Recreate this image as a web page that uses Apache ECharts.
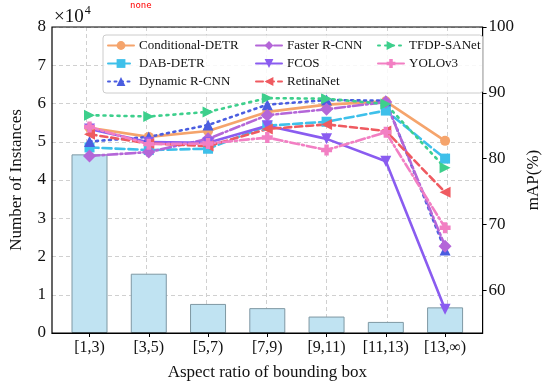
<!DOCTYPE html>
<html>
<head>
<meta charset="utf-8">
<script src="https://cdn.jsdelivr.net/npm/echarts@6/dist/echarts.min.js"></script>
<style>html,body{margin:0;padding:0;background:#fff}#c{width:550px;height:390px}#d{position:absolute;left:130px;top:0;width:420px;font:9px monospace;color:red;white-space:pre-wrap;background:rgba(255,255,255,0.9)}</style>
</head>
<body>
<div id="c"></div>
<div id="d"></div>
<script>
var categories = ['[1,3)', '[3,5)', '[5,7)', '[7,9)', '[9,11)', '[11,13)', '[13,\u221e)'];
var instanceCounts = [46700, 15500, 7600, 6500, 4300, 2900, 6700];
var rightTicks = [60, 70, 80, 90, 100];
var conditionalDETR = [84.7, 83.3, 84.2, 87.1, 88.2, 88.7, 82.7];
var dabDETR        = [81.7, 81.3, 81.5, 85.0, 85.6, 87.3, 80.0];
var dynamicRCNN    = [82.6, 83.3, 85.1, 88.2, 88.9, 88.8, 66.1];
var fasterRCNN     = [80.4, 81.0, 83.0, 86.6, 87.5, 88.6, 66.7];
var fcos           = [84.5, 82.5, 82.4, 85.0, 83.0, 79.6, 57.1];
var retinaNet      = [83.7, 82.3, 81.9, 84.5, 85.2, 84.2, 74.9];
var tfdpSANet      = [86.6, 86.4, 87.1, 89.2, 89.1, 88.3, 78.6];
var yolov3         = [84.8, 82.2, 82.3, 83.2, 81.3, 84.0, 69.5];
var FONT = 'Liberation Serif';
var plusPath = 'path://M3,0H7V3H10V7H7V10H3V7H0V3H3Z';
function pairs(arr) { return arr.map(function (v, i) { return [i, v]; }); }
var catIndex = categories.map(function (c, i) { return i; });
var lineDefs = [
  { name: 'Conditional-DETR', data: conditionalDETR, color: '#f5a46c', type: 'solid', symbol: 'circle', rot: 0, size: 10 },
  { name: 'DAB-DETR', data: dabDETR, color: '#3ec0ea', type: [9, 4], symbol: 'rect', rot: 0, size: 10 },
  { name: 'Dynamic R-CNN', data: dynamicRCNN, color: '#4a5de0', type: [2, 4.5], symbol: 'triangle', rot: 0, size: 11 },
  { name: 'Faster R-CNN', data: fasterRCNN, color: '#b466d8', type: [10, 3, 2, 3], symbol: 'diamond', rot: 0, size: 13 },
  { name: 'FCOS', data: fcos, color: '#8a5cf0', type: 'solid', symbol: 'triangle', rot: 180, size: 11 },
  { name: 'RetinaNet', data: retinaNet, color: '#ef5a60', type: [7, 4], symbol: 'triangle', rot: 90, size: 11 },
  { name: 'TFDP-SANet', data: tfdpSANet, color: '#3dcf8c', type: [2, 5], symbol: 'triangle', rot: -90, size: 11 },
  { name: 'YOLOv3', data: yolov3, color: '#f27fc3', type: [9, 3, 2, 3], symbol: plusPath, rot: 0, size: 11 }
];
var series = [{ type: 'bar', name: 'Instances', xAxisIndex: 0, yAxisIndex: 0, barWidth: 36, data: pairs(instanceCounts), itemStyle: { color: '#c0e3f2', borderColor: '#7f98a3', borderWidth: 1 }, z: 1 }];
lineDefs.forEach(function (d) {
  series.push({ type: 'line', name: d.name, xAxisIndex: 0, yAxisIndex: 1, data: pairs(d.data), symbol: d.symbol, symbolSize: d.size, symbolRotate: d.rot,
    lineStyle: { color: d.color, width: 2.6, type: d.type, cap: 'round' }, itemStyle: { color: d.color }, z: 3 });
});
var names = lineDefs.map(function (d) { return d.name; });
var legendCommon = { orient: 'vertical', top: 35, itemWidth: 26, itemHeight: 11, itemGap: 5, textStyle: { fontFamily: FONT, fontSize: 13, color: '#111' }, selectedMode: false };
var X_MIN = -0.633, X_MAX = 6.633;
var GRID_L = 48, GRID_R = 65, W = 550;
var pxPerUnit = (W - GRID_L - GRID_R) / (X_MAX - X_MIN);
var option = {
  animation: false, backgroundColor: '#fff',
  title: { text: '{a|\u00d710}{b|4}', left: 49, top: 0, textStyle: { fontWeight: 'normal', rich: { a: { fontFamily: FONT, fontSize: 19, color: '#111', lineHeight: 24 }, b: { fontFamily: FONT, fontSize: 12, color: '#111', lineHeight: 24, padding: [0, 0, 12, 1] } } } },
  grid: [
    { left: GRID_L, right: GRID_R, top: 27, bottom: 57, show: true, borderColor: '#000', borderWidth: 1.2, backgroundColor: 'transparent', z: 2 },
    { left: GRID_L + (0 - X_MIN) * pxPerUnit, right: GRID_R + (X_MAX - 6) * pxPerUnit, top: 27, bottom: 57, show: false, z: 0 }
  ],
  legend: [
    Object.assign({}, legendCommon, { left: 103, data: names.slice(0, 3), padding: [4, 244, 5, 4], borderColor: '#cccccc', borderWidth: 1, borderRadius: 3, backgroundColor: 'rgba(255,255,255,0.85)' }),
    Object.assign({}, legendCommon, { left: 255, top: 39, padding: 0, data: names.slice(3, 6) }),
    Object.assign({}, legendCommon, { left: 377, top: 39, padding: 0, data: names.slice(6, 8) })
  ],
  xAxis: [{ type: 'value', gridIndex: 0, min: X_MIN, max: X_MAX, name: 'Aspect ratio of bounding box', nameLocation: 'middle', nameGap: 31,
    nameTextStyle: { fontFamily: FONT, fontSize: 17, color: '#111' }, axisLine: { onZero: false, lineStyle: { color: '#000', width: 1.2 } },
    axisTick: { show: true, length: 4, lineStyle: { color: '#000' }, customValues: catIndex },
    axisLabel: { fontFamily: FONT, fontSize: 16, color: '#111', margin: 7, customValues: catIndex, formatter: function (v) { return categories[Math.round(v)]; } }, splitLine: { show: false } },
    { type: 'category', gridIndex: 1, data: categories, boundaryGap: false, axisLine: { show: false, onZero: false }, axisTick: { show: false }, axisLabel: { show: false },
    splitLine: { show: true, lineStyle: { color: '#d0d0d0', type: [4, 3], width: 1 } } }],
  yAxis: [{ type: 'value', gridIndex: 0, min: 0, max: 80000, interval: 10000, name: 'Number of Instances', nameLocation: 'middle', nameGap: 27,
    nameTextStyle: { fontFamily: FONT, fontSize: 17, color: '#111' }, axisLine: { show: false, onZero: false }, axisTick: { show: false },
    axisLabel: { fontFamily: FONT, fontSize: 17, color: '#111', margin: 6, formatter: function (v) { return String(Math.round(v / 10000)); } },
    splitLine: { show: true, lineStyle: { color: '#d0d0d0', type: [4, 3], width: 1 } } },
    { type: 'value', gridIndex: 0, min: 53.5, max: 100, position: 'right', name: 'mAP(%)', nameLocation: 'middle', nameGap: 27,
    nameTextStyle: { fontFamily: FONT, fontSize: 17, color: '#111' }, axisLine: { show: false, onZero: false },
    axisTick: { show: true, length: 4, lineStyle: { color: '#000' }, customValues: rightTicks },
    axisLabel: { fontFamily: FONT, fontSize: 17, color: '#111', margin: 6, customValues: rightTicks }, splitLine: { show: false } },
    { type: 'value', gridIndex: 1, show: false, min: 0, max: 1, axisLine: { show: false, onZero: false } }],
  series: series
};
var chart = echarts.init(document.getElementById('c'), null, { renderer: 'canvas' });
chart.setOption(option);
var out = [];
chart.getZr().storage.getDisplayList(true).forEach(function (el) {
  if (!el.getBoundingRect) return;
  var r = el.getBoundingRect().clone();
  if (el.transform) r.applyTransform(el.transform);
  if (r.x > 46 && r.x < 62 && r.width < 8 && r.height > 60) {
    var p = el, chain = [];
    while (p) { var ci = p.__ecComponentInfo; chain.push(p.type + (p.name ? ':' + p.name : '') + (ci ? '[' + ci.mainType + ci.index + ']' : '')); p = p.parent; }
    var st = el.style || {};
    out.push(el.type + ' x' + r.x.toFixed(1) + ' w' + r.width.toFixed(1) + ' y' + r.y.toFixed(0) + ' h' + r.height.toFixed(0) + ' s=' + st.stroke + ' f=' + st.fill + ' lw=' + st.lineWidth + ' z=' + el.z + ' | ' + chain.slice(0, 7).join('>'));
  }
});
document.getElementById('d').textContent = out.join('\n') || 'none';
</script>
</body>
</html>
